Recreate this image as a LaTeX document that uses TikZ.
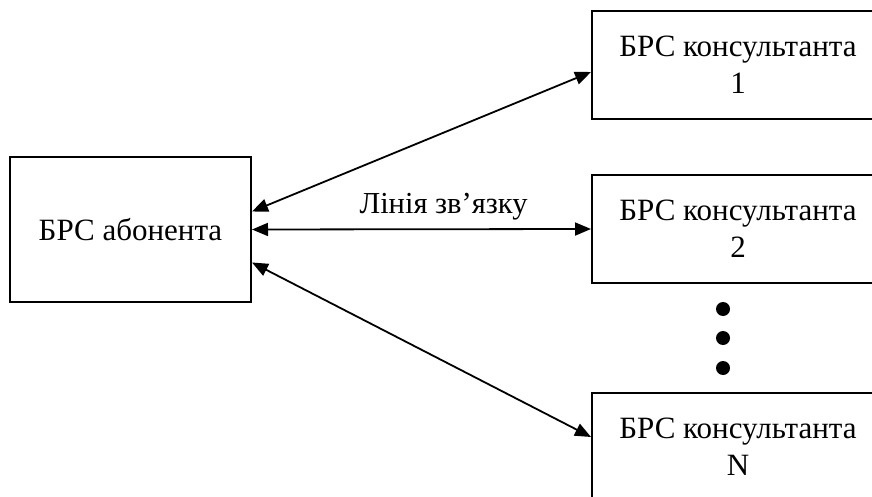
\documentclass[tikz,border=0pt]{standalone}
\usepackage{fontspec}
\setmainfont{Liberation Serif}
\usetikzlibrary{arrows.meta}
\begin{document}
\begin{tikzpicture}[x=1pt,y=-1pt,
  box/.style={draw,line width=2pt,inner sep=0pt,align=center,
    font=\fontsize{31}{37}\selectfont},
  link/.style={line width=1.8pt,{Triangle[length=16pt,width=13pt]}-{Triangle[length=16pt,width=13pt]}},
  dotmark/.style={circle,fill=black,inner sep=0pt,minimum size=14pt}]
\clip (0,0) rectangle (872,497);
\fill[white] (0,0) rectangle (872,497);
\node[box,minimum width=241pt,minimum height=145pt] (L) at (130.5,229.5) {БРС абонента};
\node[box,minimum width=292pt,minimum height=108pt] (C1) at (738,65) {БРС консультанта\\1};
\node[box,minimum width=292pt,minimum height=108pt] (C2) at (738,229) {БРС консультанта\\2};
\node[box,minimum width=292pt,minimum height=108pt] (CN) at (738,447) {БРС консультанта\\N};
\node[dotmark] (d1) at (723,309) {};
\node[dotmark] (d2) at (723,338) {};
\node[dotmark] (d3) at (723,368) {};
\draw[link] ([yshift=18pt]L.east) -- ([yshift=-7pt]C1.west);
\draw[link] (L.east) -- (C2.west) node[pos=0.565,anchor=base,yshift=16pt,font=\fontsize{30.5}{34}\selectfont] (lbl) {Лінія зв’язку};
\draw[link] ([yshift=-33pt]L.east) -- ([yshift=10pt]CN.west);
\end{tikzpicture}
\end{document}
